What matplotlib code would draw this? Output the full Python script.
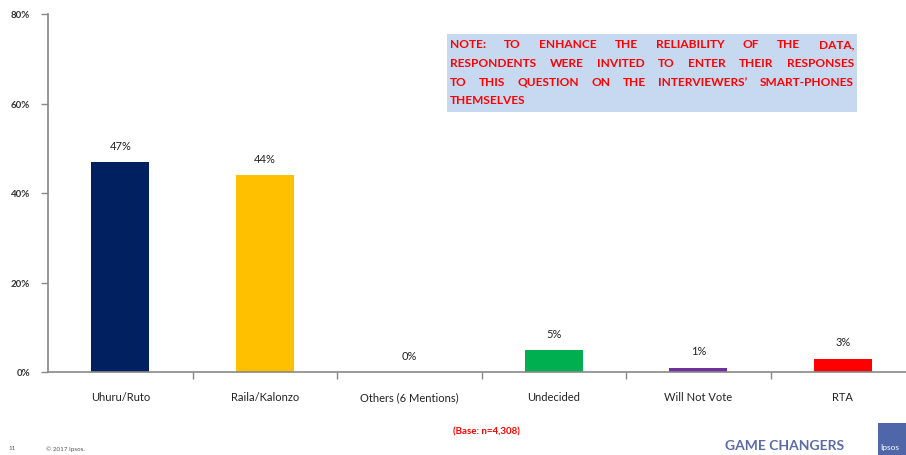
import matplotlib.pyplot as plt
from matplotlib.patches import Rectangle

plt.rcParams['font.family'] = ['Lato', 'DejaVu Sans']

categories = ['Uhuru/Ruto', 'Raila/Kalonzo', 'Others (6 Mentions)', 'Undecided', 'Will Not Vote', 'RTA']
values = [47, 44, 0, 5, 1, 3]
colors = ['#002060', '#FFC000', '#FFFFFF', '#00B050', '#7030A0', '#FF0000']
y_ticks = [0, 20, 40, 60, 80]

note_lines = [
    'NOTE: TO ENHANCE THE RELIABILITY OF THE DATA,',
    'RESPONDENTS WERE INVITED TO ENTER THEIR RESPONSES',
    "TO THIS QUESTION ON THE INTERVIEWERS\u2019 SMART-PHONES",
    'THEMSELVES',
]

W, H = 906, 456
fig = plt.figure(figsize=(W / 100, H / 100), dpi=100)
ax = fig.add_axes([48 / W, 83 / H, (W - 48) / W, 358 / H])

x = list(range(len(categories)))
ax.bar(x, values, width=0.4, color=colors)
ax.set_xlim(-0.5, 5.5 - 9 / 144)
ax.set_ylim(0, 80)

for xi, v in zip(x, values):
    ax.annotate(f'{v}%', (xi, v), xytext=(0, 8), textcoords='offset points',
                ha='center', va='bottom', fontsize=8, color='#222222')

ax.set_yticks(y_ticks)
ax.set_yticklabels([f'{t}%' for t in y_ticks], fontsize=7, fontweight='bold', color='#333333')
ax.set_xticks(x)
ax.set_xticklabels(categories, fontsize=8, color='#222222')
ax.set_xticks([i + 0.5 for i in x[:-1]], minor=True)
ax.tick_params(axis='x', which='major', length=0, pad=14)
ax.tick_params(axis='x', which='minor', length=5, color='#888888', width=1, direction='out')
ax.tick_params(axis='y', length=5, color='#888888', width=1, pad=8)
for s in ['top', 'right']:
    ax.spines[s].set_visible(False)
for s in ['left', 'bottom']:
    ax.spines[s].set_color('#888888')
    ax.spines[s].set_linewidth(1.2)

# note box
fig.patches.append(Rectangle((447 / W, 1 - 113 / H), 410 / W, 78 / H,
                             transform=fig.transFigure, facecolor='#C6D9F1', edgecolor='none'))
renderer = fig.canvas.get_renderer()
left_px, right_px = 450, 854
for i, line in enumerate(note_lines):
    ypx = H - (45 + i * 18.5)
    words = line.split(' ')
    texts = [fig.text(0, ypx / H, w, fontsize=8.6, fontweight='bold', color='#FF0000',
                      va='center', ha='left') for w in words]
    widths = [t.get_window_extent(renderer).width for t in texts]
    if i < len(note_lines) - 1 and len(words) > 1:
        gap = (right_px - left_px - sum(widths)) / (len(words) - 1)
    else:
        gap = 3
    xp = left_px
    for t, w in zip(texts, widths):
        t.set_x(xp / W)
        xp += w + gap

# footer
fig.text(486 / W, 1 - 432 / H, '(Base: n=4,308)', fontsize=7, fontweight='bold',
         color='#FF0000', ha='center', va='center')
fig.text(8 / W, 1 - 449 / H, '11', fontsize=4.5, color='#555555', va='center')
fig.text(46 / W, 1 - 449 / H, '\u00a9 2017 Ipsos.', fontsize=4.5, color='#555555', va='center')
fig.text(785 / W, 1 - 446 / H, 'GAME CHANGERS', fontsize=10, fontweight='bold',
         color='#5A6BA6', ha='center', va='center')
fig.patches.append(Rectangle((878 / W, 0), 28 / W, 32 / H, transform=fig.transFigure,
                             facecolor='#4F67A8', edgecolor='none'))
fig.text(880 / W, 1 - 448 / H, 'Ipsos', fontsize=6, color='white', va='center')

fig.savefig('out.png', dpi=100)
